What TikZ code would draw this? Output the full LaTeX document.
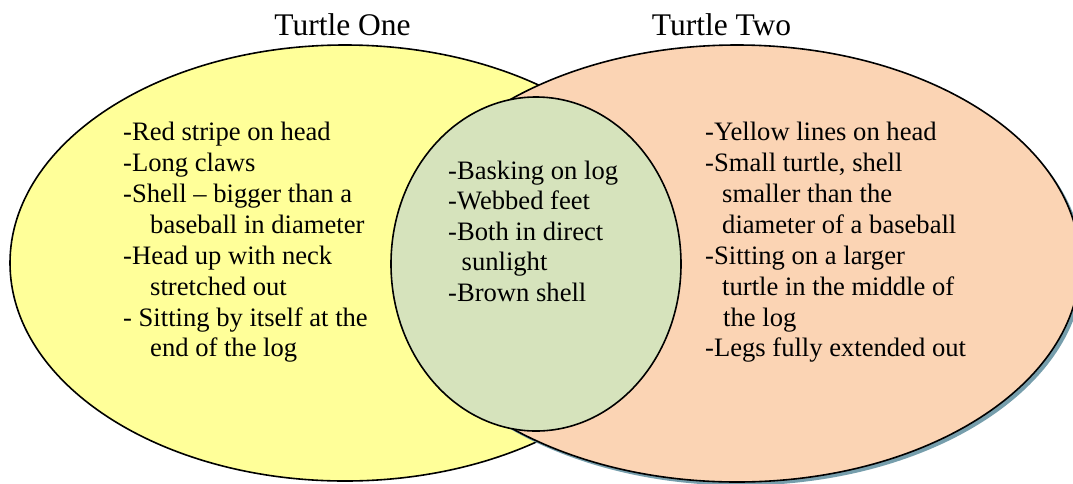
\documentclass[tikz,border=0pt]{standalone}
\usepackage{fontspec}
\setmainfont{Liberation Serif}
\definecolor{yel}{RGB}{255,255,153}
\definecolor{peach}{RGB}{251,212,180}
\definecolor{sage}{RGB}{214,227,188}
\definecolor{shadowc}{RGB}{118,158,172}
\begin{document}
\begin{tikzpicture}[x=1pt,y=-1pt,
  body/.style={anchor=base west, inner sep=0pt, font=\fontsize{26.6}{30}\selectfont},
  ttl/.style={anchor=base, inner sep=0pt, font=\fontsize{31.5}{36}\selectfont},
  outline/.style={draw=black, line width=1.6pt}]
\clip (0,0) rectangle (1073,483);
% sets
\path[outline, fill=yel] (345,263) ellipse [x radius=335, y radius=218];
\fill[shadowc] (740.5,267) ellipse [x radius=343, y radius=218.5];
\path[outline, fill=peach] (737,263.5) ellipse [x radius=343, y radius=218.5];
\path[outline, fill=sage] (536,264) ellipse [x radius=145, y radius=167];
% titles
\node[ttl] (t1) at (342.5,35) {Turtle One};
\node[ttl] (t2) at (721.5,35) {Turtle Two};
% left
\node[body] (l1) at (123,140) {-Red stripe on head};
\node[body] (l2) at (123,171) {-Long claws};
\node[body] (l3) at (123,202) {-Shell – bigger than a};
\node[body] (l4) at (150,233) {baseball in diameter};
\node[body] (l5) at (123,264) {-Head up with neck};
\node[body] (l6) at (150,295) {stretched out};
\node[body] (l7) at (123,326) {- Sitting by itself at the};
\node[body] (l8) at (150,356) {end of the log};
% middle
\node[body] (m1) at (448,179) {-Basking on log};
\node[body] (m2) at (448,209.5) {-Webbed feet};
\node[body] (m3) at (448,240) {-Both in direct};
\node[body] (m4) at (461.5,270.5) {sunlight};
\node[body] (m5) at (448,301) {-Brown shell};
% right
\node[body] (r1) at (705,140) {-Yellow lines on head};
\node[body] (r2) at (705,171) {-Small turtle, shell};
\node[body] (r3) at (722,202) {smaller than the};
\node[body] (r4) at (722,233) {diameter of a baseball};
\node[body] (r5) at (705,264) {-Sitting on a larger};
\node[body] (r6) at (722,295) {turtle in the middle of};
\node[body] (r7) at (723,326) {the log};
\node[body] (r8) at (705,356) {-Legs fully extended out};
\end{tikzpicture}
\end{document}
